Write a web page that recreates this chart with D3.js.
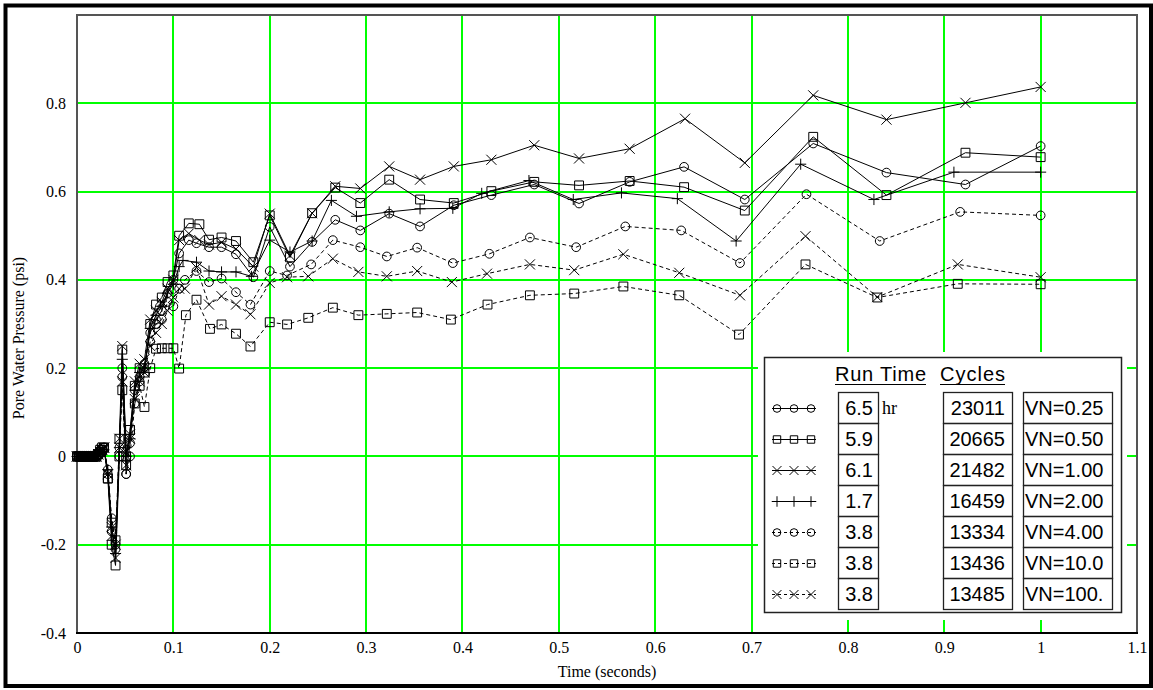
<!DOCTYPE html>
<html>
<head>
<meta charset="utf-8">
<script src="https://cdn.jsdelivr.net/npm/d3@7"></script>
<style>
  body { margin: 0; background: #fff; }
  svg { display: block; }
</style>
</head>
<body>
<svg id="chart" width="1153" height="690"></svg>
<script>
// time samples shared by every run before the pressure builds up (seconds)
const tEarly = [0, 0.002, 0.004, 0.006, 0.008, 0.01, 0.012, 0.014, 0.016, 0.018, 0.02, 0.022, 0.024, 0.026, 0.028,
                0.032, 0.036, 0.04, 0.044, 0.047, 0.051, 0.055, 0.06, 0.065, 0.07, 0.076, 0.082, 0.088, 0.094, 0.1, 0.106];

// VN=0.25
const pEarly025 = [0, 0, 0, 0, 0, 0, 0, 0, 0, 0, 0, 0.005, 0.01, 0.015, 0.02,
                   -0.04, -0.17, -0.21, 0.02, 0.20, -0.04, 0.03, 0.15, 0.18, 0.21, 0.28, 0.31, 0.33, 0.37, 0.40, 0.46];
const tLate025 = [0.116, 0.124, 0.137, 0.15, 0.165, 0.183, 0.2, 0.221, 0.244, 0.268, 0.294, 0.324, 0.356, 0.391, 0.43, 0.4745, 0.521, 0.5735, 0.63, 0.693, 0.764, 0.84, 0.922, 1.0];
const pLate025 = [0.49, 0.483, 0.474, 0.474, 0.458, 0.406, 0.52, 0.43, 0.486, 0.536, 0.512, 0.55, 0.521, 0.569, 0.592, 0.616, 0.573, 0.622, 0.656, 0.582, 0.709, 0.643, 0.616, 0.703];

// VN=0.50
const pEarly050 = [0, 0, 0, 0, 0, 0, 0, 0, 0, 0, 0, 0.005, 0.015, 0.02, 0.02,
                   -0.05, -0.20, -0.247, 0.0, 0.242, 0.0, 0.06, 0.16, 0.20, 0.19, 0.30, 0.344, 0.36, 0.395, 0.41, 0.50];
const tLate050 = [0.116, 0.127, 0.137, 0.15, 0.165, 0.183, 0.2, 0.221, 0.244, 0.268, 0.294, 0.324, 0.356, 0.391, 0.43, 0.4745, 0.521, 0.5735, 0.63, 0.693, 0.764, 0.84, 0.922, 1.0];
const pLate050 = [0.528, 0.526, 0.491, 0.496, 0.488, 0.44, 0.546, 0.451, 0.551, 0.609, 0.574, 0.627, 0.582, 0.574, 0.601, 0.622, 0.614, 0.624, 0.61, 0.557, 0.724, 0.592, 0.688, 0.678];

// VN=1.00
const pEarly100 = [0, 0, 0, 0, 0, 0, 0, 0, 0, 0, 0, 0.005, 0.01, 0.015, 0.02,
                   -0.04, -0.18, -0.23, 0.04, 0.25, 0.01, 0.05, 0.17, 0.21, 0.22, 0.31, 0.33, 0.35, 0.38, 0.40, 0.49];
const tLate100 = [0.116, 0.127, 0.137, 0.15, 0.165, 0.183, 0.2, 0.221, 0.244, 0.268, 0.294, 0.324, 0.356, 0.391, 0.43, 0.4745, 0.521, 0.5735, 0.631, 0.693, 0.764, 0.84, 0.922, 1.0];
const pLate100 = [0.505, 0.49, 0.48, 0.485, 0.47, 0.43, 0.55, 0.455, 0.551, 0.612, 0.607, 0.657, 0.627, 0.657, 0.672, 0.705, 0.675, 0.697, 0.765, 0.665, 0.818, 0.763, 0.801, 0.837];

// VN=2.00
const pEarly200 = [0, 0, 0, 0, 0, 0, 0, 0, 0, 0, 0, 0.005, 0.01, 0.015, 0.015,
                   -0.03, -0.16, -0.22, 0.02, 0.22, 0.0, 0.04, 0.15, 0.19, 0.20, 0.29, 0.32, 0.34, 0.37, 0.39, 0.43];
const tLate200 = [0.11, 0.124, 0.137, 0.15, 0.165, 0.181, 0.2, 0.221, 0.244, 0.264, 0.29, 0.324, 0.356, 0.39, 0.42, 0.469, 0.515, 0.565, 0.623, 0.684, 0.751, 0.827, 0.91, 1.0];
const pLate200 = [0.444, 0.44, 0.42, 0.418, 0.418, 0.408, 0.49, 0.463, 0.488, 0.58, 0.544, 0.554, 0.561, 0.562, 0.596, 0.625, 0.582, 0.597, 0.584, 0.488, 0.662, 0.582, 0.644, 0.644];

// VN=4.00
const pEarly400 = [0, 0, 0, 0, 0, 0, 0, 0, 0, 0, 0, 0.005, 0.01, 0.015, 0.02,
                   -0.03, -0.14, -0.20, 0.0, 0.18, -0.04, 0.0, 0.12, 0.17, 0.20, 0.26, 0.30, 0.31, 0.35, 0.34, 0.38];
const tLate400 = [0.112, 0.124, 0.137, 0.15, 0.165, 0.18, 0.2, 0.218, 0.243, 0.2655, 0.294, 0.3215, 0.353, 0.39, 0.428, 0.47, 0.518, 0.569, 0.627, 0.688, 0.757, 0.833, 0.9165, 1.0];
const pLate400 = [0.40, 0.42, 0.395, 0.403, 0.372, 0.344, 0.42, 0.41, 0.435, 0.49, 0.474, 0.453, 0.473, 0.438, 0.459, 0.496, 0.474, 0.521, 0.512, 0.438, 0.594, 0.488, 0.554, 0.546];

// VN=10.0
const pEarly10 = [0, 0, 0, 0, 0, 0, 0, 0, 0, 0, 0, 0.005, 0.01, 0.015, 0.02,
                  -0.05, -0.15, -0.19, 0.04, 0.15, -0.02, 0.06, 0.12, 0.16, 0.112, 0.20, 0.244, 0.245, 0.245, 0.245, 0.199];
const tLate10 = [0.113, 0.124, 0.138, 0.15, 0.165, 0.18, 0.2, 0.218, 0.24, 0.2655, 0.292, 0.3215, 0.353, 0.388, 0.426, 0.47, 0.516, 0.567, 0.625, 0.687, 0.756, 0.8305, 0.914, 1.0];
const pLate10 = [0.32, 0.355, 0.289, 0.299, 0.278, 0.249, 0.304, 0.299, 0.314, 0.337, 0.32, 0.323, 0.326, 0.31, 0.344, 0.365, 0.369, 0.385, 0.365, 0.276, 0.435, 0.36, 0.391, 0.39];

// VN=100.
const pEarly1000 = [0, 0, 0, 0, 0, 0, 0, 0, 0, 0, 0, 0.005, 0.01, 0.015, 0.02,
                    -0.04, -0.16, -0.20, 0.02, 0.17, -0.02, 0.04, 0.13, 0.17, 0.19, 0.25, 0.28, 0.30, 0.33, 0.36, 0.38];
const tLate1000 = [0.112, 0.124, 0.137, 0.15, 0.165, 0.18, 0.2, 0.218, 0.24, 0.2655, 0.292, 0.3215, 0.353, 0.389, 0.4255, 0.47, 0.516, 0.567, 0.625, 0.688, 0.756, 0.8305, 0.914, 1.0];
const pLate1000 = [0.38, 0.428, 0.344, 0.363, 0.344, 0.322, 0.393, 0.406, 0.408, 0.448, 0.418, 0.408, 0.42, 0.395, 0.414, 0.435, 0.422, 0.458, 0.416, 0.365, 0.499, 0.361, 0.435, 0.406];

// legend table
const vnLabels = ["VN=0.25", "VN=0.50", "VN=1.00", "VN=2.00", "VN=4.00", "VN=10.0", "VN=100."];
const runTimes = ["6.5", "5.9", "6.1", "1.7", "3.8", "3.8", "3.8"];
const cycles = ["23011", "20665", "21482", "16459", "13334", "13436", "13485"];
const markerTypes = ["circle", "square", "times", "plus", "circle", "square", "times"];
const dashedRuns = [false, false, false, false, true, true, true];

// ticks
const xTicks = [0, 0.1, 0.2, 0.3, 0.4, 0.5, 0.6, 0.7, 0.8, 0.9, 1.0, 1.1];
const xTickLabels = ["0", "0.1", "0.2", "0.3", "0.4", "0.5", "0.6", "0.7", "0.8", "0.9", "1", "1.1"];
const yTicks = [-0.4, -0.2, 0, 0.2, 0.4, 0.6, 0.8];
const yTickLabels = ["-0.4", "-0.2", "0", "0.2", "0.4", "0.6", "0.8"];

const runs = [
    [tLate025, pEarly025, pLate025],
    [tLate050, pEarly050, pLate050],
    [tLate100, pEarly100, pLate100],
    [tLate200, pEarly200, pLate200],
    [tLate400, pEarly400, pLate400],
    [tLate10, pEarly10, pLate10],
    [tLate1000, pEarly1000, pLate1000]
].map((r, i) => {
    let t = tEarly.concat(r[0]);
    let p = r[1].concat(r[2]);
    return { label: vnLabels[i], type: markerTypes[i], dashed: dashedRuns[i], points: t.map((v, j) => ({ t: v, p: p[j] })) };
});

const symbolTypes = { circle: d3.symbolCircle, square: d3.symbolSquare2, times: d3.symbolTimes, plus: d3.symbolPlus };
const plotSizes = { circle: 60, square: 100, times: 68, plus: 42 };
const legendSizes = { circle: 46, square: 70, times: 54, plus: 38 };

function renderChart() {
    const svg = d3.select("#chart");
    const left = 77, right = 1137, top = 15, bottom = 633;

    // 1. outer page frame
    svg.append("rect").attr("width", 1153).attr("height", 690).attr("fill", "#fff");
    svg.append("path")
        .attr("d", "M5.5,686 V5.5 H1151 V686 Z")
        .attr("fill", "none").attr("stroke", "#000").attr("stroke-width", 4);

    // 2. scales
    const x = d3.scaleLinear().domain([0, 1.1]).range([left, right]);
    const y = d3.scaleLinear().domain([-0.4, 1.0]).range([bottom, top]);

    // 3. green grid (2px, snapped to whole pixels)
    const grid = svg.append("g").attr("stroke", "#00ff00").attr("stroke-width", 2).attr("shape-rendering", "crispEdges");
    grid.selectAll(".vg").data(xTicks.slice(1, -1)).enter().append("line")
        .attr("x1", d => Math.round(x(d))).attr("x2", d => Math.round(x(d)))
        .attr("y1", top).attr("y2", bottom);
    grid.selectAll(".hg").data(yTicks.slice(1)).enter().append("line")
        .attr("x1", left).attr("x2", right)
        .attr("y1", d => Math.round(y(d))).attr("y2", d => Math.round(y(d)));

    // legend sits on a white patch that hides the grid
    svg.append("rect").attr("x", 758).attr("y", 352).attr("width", 369).attr("height", 268).attr("fill", "#fff");

    // 4. frame + axes
    svg.append("rect").attr("x", left).attr("y", top)
        .attr("width", right - left).attr("height", bottom - top)
        .attr("fill", "none").attr("stroke", "#555").attr("stroke-width", 2).attr("shape-rendering", "crispEdges");
    svg.append("line").attr("x1", left - 1).attr("x2", right + 1).attr("y1", bottom).attr("y2", bottom)
        .attr("stroke", "#000").attr("stroke-width", 2).attr("shape-rendering", "crispEdges");

    const xAxis = svg.append("g").attr("transform", `translate(0,${bottom})`)
        .call(d3.axisBottom(x).tickValues(xTicks).tickFormat((d, i) => xTickLabels[i]).tickSize(0).tickPadding(9));
    const yAxis = svg.append("g").attr("transform", `translate(${left},0)`)
        .call(d3.axisLeft(y).tickValues(yTicks).tickFormat((d, i) => yTickLabels[i]).tickSize(0).tickPadding(11));
    [xAxis, yAxis].forEach(a => {
        a.select(".domain").remove();
        a.selectAll("line").remove();
        a.selectAll("text").attr("font-family", "Liberation Serif, serif").attr("font-size", 16).attr("fill", "#000");
    });

    svg.append("text").attr("x", 607).attr("y", 677).attr("text-anchor", "middle")
        .attr("font-family", "Liberation Serif, serif").attr("font-size", 16).text("Time (seconds)");
    svg.append("text").attr("transform", "translate(24,338) rotate(-90)").attr("text-anchor", "middle")
        .attr("font-family", "Liberation Serif, serif").attr("font-size", 16).text("Pore Water Pressure (psi)");

    // 5. the runs
    const line = d3.line().x(d => x(d.t)).y(d => y(d.p));
    runs.forEach(run => {
        const g = svg.append("g");
        g.append("path").datum(run.points).attr("d", line)
            .attr("fill", "none").attr("stroke", "#000").attr("stroke-width", 1)
            .attr("stroke-dasharray", run.dashed ? "4,3" : null);
        g.selectAll("path.mk").data(run.points).enter().append("path")
            .attr("class", "mk")
            .attr("transform", d => `translate(${x(d.t)},${y(d.p)})`)
            .attr("d", d3.symbol(symbolTypes[run.type], plotSizes[run.type]))
            .attr("fill", "none").attr("stroke", "#000").attr("stroke-width", 1);
    });

    // 6. legend table
    const lg = svg.append("g").attr("font-family", "Liberation Sans, Arial, sans-serif").attr("font-size", 20);
    lg.append("rect").attr("x", 764.5).attr("y", 357.5).attr("width", 357).attr("height", 255)
        .attr("fill", "#fff").attr("stroke", "#222").attr("stroke-width", 1.5);

    lg.append("text").attr("x", 835).attr("y", 381).text("Run Time").attr("textLength", 91);
    lg.append("text").attr("x", 940).attr("y", 381).text("Cycles").attr("textLength", 65);
    lg.append("line").attr("x1", 835).attr("x2", 926).attr("y1", 384.5).attr("y2", 384.5).attr("stroke", "#000");
    lg.append("line").attr("x1", 940).attr("x2", 1005).attr("y1", 384.5).attr("y2", 384.5).attr("stroke", "#000");

    const rowH = 31, row0 = 392.5;
    const cols = [
        { x: 838.5, w: 40, vals: runTimes, anchor: "end", tx: 873 },
        { x: 943.5, w: 69, vals: cycles, anchor: "end", tx: 1005 },
        { x: 1023.5, w: 89, vals: vnLabels, anchor: "start", tx: 1025 }
    ];
    cols.forEach(c => {
        c.vals.forEach((v, i) => {
            lg.append("rect").attr("x", c.x).attr("y", row0 + i * rowH).attr("width", c.w).attr("height", rowH)
                .attr("fill", "none").attr("stroke", "#222").attr("stroke-width", 1.3);
            lg.append("text").attr("x", c.tx).attr("y", row0 + i * rowH + rowH / 2 + 7)
                .attr("text-anchor", c.anchor).text(v);
        });
    });
    lg.append("text").attr("x", 882).attr("y", row0 + rowH / 2 + 6)
        .attr("font-family", "Liberation Serif, serif").attr("font-size", 18).text("hr");

    const symX = [777, 794, 811];
    runs.forEach((run, i) => {
        const cy = row0 + i * rowH + rowH / 2 + 0.5;
        lg.append("line").attr("x1", 772).attr("x2", 816).attr("y1", cy).attr("y2", cy)
            .attr("stroke", "#000").attr("stroke-dasharray", run.dashed ? "3,3" : null);
        symX.forEach(sx => {
            lg.append("path").attr("transform", `translate(${sx},${cy})`)
                .attr("d", d3.symbol(symbolTypes[run.type], legendSizes[run.type]))
                .attr("fill", "none").attr("stroke", "#000");
        });
    });
}
renderChart();
</script>
</body>
</html>
